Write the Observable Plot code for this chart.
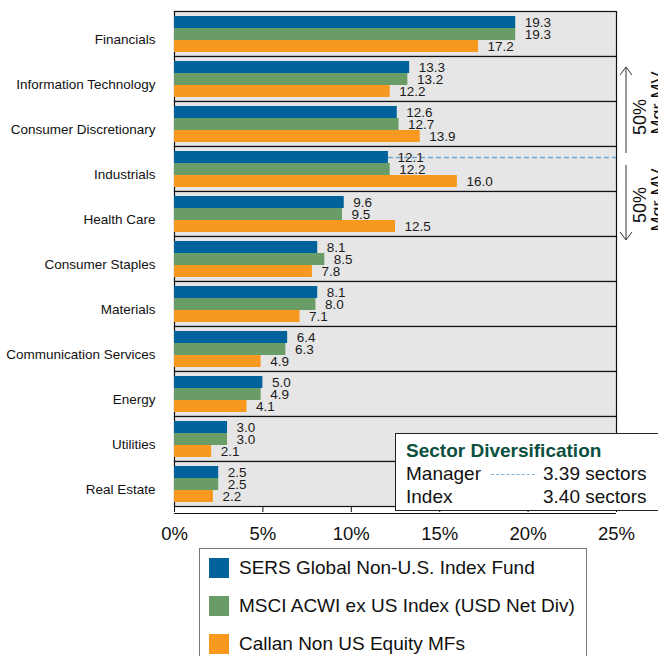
<!DOCTYPE html>
<html><head><meta charset="utf-8">
<script src="https://cdn.jsdelivr.net/npm/d3@7"></script>
<script src="https://cdn.jsdelivr.net/npm/@observablehq/plot@0.6"></script>
<style>
body{margin:0;background:#fff;font-family:"Liberation Sans",Arial,sans-serif;}
#wrap{position:relative;width:658px;height:656px;overflow:hidden;}
#chart{position:absolute;left:0;top:0;}
#divbox{position:absolute;left:395px;top:433px;width:300px;height:78px;border:1px solid #222;background:#fff;box-sizing:border-box;}
#divbox .t{position:absolute;left:10px;top:6px;font-weight:bold;font-size:19px;color:#0b4f3e;white-space:nowrap;}
#divbox .r{position:absolute;left:10px;font-size:19px;color:#111;white-space:nowrap;}
#divbox .v{position:absolute;left:147px;font-size:19px;color:#111;white-space:nowrap;}
#divbox .dash{position:absolute;left:95px;width:44px;height:0;border-top:1.5px dashed #7fb1d8;}
#legend{position:absolute;left:199px;top:548px;width:388px;height:130px;border:1px solid #777;box-sizing:border-box;background:#fff;}
#legend .it{position:absolute;left:9px;height:20px;display:flex;align-items:center;white-space:nowrap;font-size:19px;color:#111;}
#legend .sw{width:20px;height:20px;margin-right:10px;flex:none;}
#arrows{position:absolute;left:600px;top:50px;}
</style></head><body>
<div id="wrap"><div id="chart"></div>
<svg id="arrows" width="58" height="200" font-family="Liberation Sans, Arial, sans-serif"></svg>
<div id="divbox"></div>
<div id="legend"></div>
</div>
<script>
const sectors = ["Financials","Information Technology","Consumer Discretionary","Industrials","Health Care","Consumer Staples","Materials","Communication Services","Energy","Utilities","Real Estate"];
const seriesNames = ["SERS Global Non-U.S. Index Fund","MSCI ACWI ex US Index (USD Net Div)","Callan Non US Equity MFs"];
const sersValues = [19.3,13.3,12.6,12.1,9.6,8.1,8.1,6.4,5.0,3.0,2.5];
const msciValues = [19.3,13.2,12.7,12.2,9.5,8.5,8.0,6.3,4.9,3.0,2.5];
const callanValues = [17.2,12.2,13.9,16.0,12.5,7.8,7.1,4.9,4.1,2.1,2.2];
const seriesColors = ["#00629b","#699c66","#f7991e"];
const xTicks = [0,5,10,15,20,25];
const diversificationLabels = ["Manager","Index"];
const diversificationValues = [3.39,3.40];
const splitSector = "Industrials";
const splitValue = 12.1;
const arrowText = ["50%","Mgr MV"];

const allValues = [sersValues, msciValues, callanValues];
const data = [];
sectors.forEach((s,i)=>seriesNames.forEach((n,j)=>data.push({sector:s, series:n, value:allValues[j][i]})));

const W = 658, H = 548, mT = 8, mB = 39, mL = 174, mR = 42;
const font = "Liberation Sans, Arial, sans-serif";
const lastSector = sectors[sectors.length-1];

const chart = Plot.plot({
  width: W, height: H,
  marginLeft: mL, marginRight: mR, marginTop: mT, marginBottom: mB,
  x: {domain: [0, 25], axis: null},
  y: {domain: seriesNames, axis: null, paddingInner: 0, paddingOuter: 0.25},
  fy: {domain: sectors, padding: 0, axis: null},
  color: {domain: seriesNames, range: seriesColors},
  style: {fontFamily: font, background: "transparent", color: "#111"},
  marks: [
    Plot.frame({fill: "#e6e6e6", stroke: "#111", strokeWidth: 1.2}),
    Plot.barX(data, {x: "value", y: "series", fy: "sector", fill: "series"}),
    Plot.ruleY([{sector: splitSector, series: seriesNames[0], value: splitValue}], {fy: "sector", y: "series", x1: "value", x2: 25, stroke: "#6fa6cf", strokeWidth: 1.3, strokeDasharray: "5,3"}),
    Plot.text(data, {x: "value", y: "series", fy: "sector", text: d => d.value.toFixed(1), textAnchor: "start", dx: 9, fontSize: 13.5, fill: "#1a1a1a"}),
    Plot.axisFy({anchor: "left", tickSize: 0, tickPadding: 19, fontSize: 13.5, dy: 5.5, label: null, fill: "#111"}),
    Plot.axisX({anchor: "bottom", ticks: xTicks, tickFormat: d => d + "%", tickSize: 6, tickPadding: 14, fontSize: 18.5, label: null, fill: "#111", stroke: "#111"}),
    // x-axis baseline, placed just below the last row
    Plot.ruleY([{sector: lastSector, series: seriesNames[2]}], {fy: "sector", y: "series", x1: 0, x2: 25, dy: 17, stroke: "#111", strokeWidth: 1.2})
  ]
});
document.getElementById("chart").appendChild(chart);

// arrows annotation (right margin)
const ns = "http://www.w3.org/2000/svg";
const asvg = document.getElementById("arrows");
function el(tag, attrs, txt){const e=document.createElementNS(ns,tag);for(const k in attrs)e.setAttribute(k,attrs[k]);if(txt)e.textContent=txt;asvg.appendChild(e);return e;}
const ox = 600, oy = 50;
const ax = 626 - ox;
el("line",{x1:ax,y1:67-oy,x2:ax,y2:153-oy,stroke:"#333","stroke-width":1});
el("polyline",{points:`${ax-6},${75-oy} ${ax},${67-oy} ${ax+6},${75-oy}`,fill:"none",stroke:"#333","stroke-width":1});
el("line",{x1:ax,y1:165-oy,x2:ax,y2:240-oy,stroke:"#333","stroke-width":1});
el("polyline",{points:`${ax-6},${232-oy} ${ax},${240-oy} ${ax+6},${232-oy}`,fill:"none",stroke:"#333","stroke-width":1});
[[117,103],[205,200]].forEach(([c1,c2])=>{
  el("text",{transform:`translate(${640-ox},${c1-oy}) rotate(-90)`,"text-anchor":"middle","dominant-baseline":"central","font-size":18,fill:"#111"},arrowText[0]);
  el("text",{transform:`translate(${658-ox},${c2-oy}) rotate(-90)`,"text-anchor":"middle","dominant-baseline":"central","font-size":18,fill:"#111"},arrowText[1]);
});

// sector diversification box
const box = document.getElementById("divbox");
box.innerHTML = `<div class="t">Sector Diversification</div>` +
  diversificationLabels.map((l,i)=>`<div class="r" style="top:${29+i*23}px">${l}</div><div class="v" style="top:${29+i*23}px">${diversificationValues[i].toFixed(2)} sectors</div>`).join("") +
  `<div class="dash" style="top:40px"></div>`;

// legend
const leg = document.getElementById("legend");
leg.innerHTML = seriesNames.map((n,i)=>`<div class="it" style="top:${9+i*38}px"><div class="sw" style="background:${seriesColors[i]}"></div>${n}</div>`).join("");
</script>
</body></html>
